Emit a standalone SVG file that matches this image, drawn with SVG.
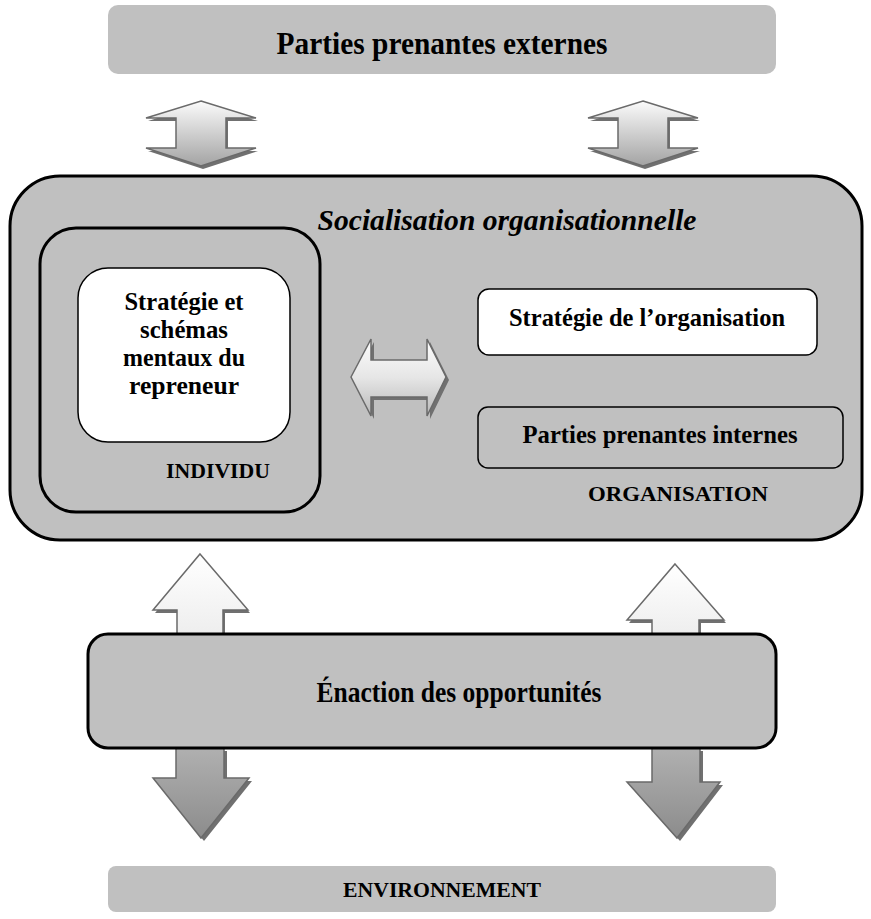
<svg xmlns="http://www.w3.org/2000/svg" width="871" height="919" viewBox="0 0 871 919">
<defs>
<linearGradient id="gDouble" x1="0" y1="0" x2="0" y2="1">
<stop offset="0" stop-color="#fbfbfb"/><stop offset="1" stop-color="#a3a3a3"/>
</linearGradient>
<linearGradient id="gUp" x1="0" y1="0" x2="0" y2="1">
<stop offset="0" stop-color="#ffffff"/><stop offset="1" stop-color="#eeeeee"/>
</linearGradient>
<linearGradient id="gDown" x1="0" y1="0" x2="0" y2="1">
<stop offset="0" stop-color="#b0b0b0"/><stop offset="1" stop-color="#8c8c8c"/>
</linearGradient>
<linearGradient id="gH" x1="0" y1="0" x2="0" y2="1">
<stop offset="0" stop-color="#fdfdfd"/><stop offset="0.5" stop-color="#e6e6e6"/><stop offset="1" stop-color="#b8b8b8"/>
</linearGradient>
</defs>
<style>
.t{font-family:"Liberation Serif","Times New Roman",serif;font-weight:bold;fill:#000;text-anchor:middle}
.gray{fill:#c0c0c0}
.thick{stroke:#000;stroke-width:3}
.thin{stroke:#000;stroke-width:1.5}
.sh{fill:#707070}
.ar{stroke:#6a6a6a;stroke-width:1.5}
</style>
<rect width="871" height="919" fill="#fff"/>
<g id="connectors">
<g id="dbl-left">
<polygon class="sh" transform="translate(2,3)" points="201,101 256,118 226,118 226,148 256,148 201,166 146,148 176,148 176,118 146,118"/>
<polygon class="ar" fill="url(#gDouble)" points="201,101 256,118 226,118 226,148 256,148 201,166 146,148 176,148 176,118 146,118"/>
</g>
<g id="dbl-right">
<polygon class="sh" transform="translate(2,3)" points="643,101 698,118 668,118 668,148 698,148 643,166 588,148 618,148 618,118 588,118"/>
<polygon class="ar" fill="url(#gDouble)" points="643,101 698,118 668,118 668,148 698,148 643,166 588,148 618,148 618,118 588,118"/>
</g>
</g>
<g id="node-externes">
<rect class="gray" x="108" y="5" width="668" height="69" rx="10"/>
<text class="t" x="442" y="54" font-size="31" textLength="331" lengthAdjust="spacingAndGlyphs">Parties prenantes externes</text>
</g>
<g id="node-socialisation">
<rect class="gray thick" x="10" y="176" width="852" height="364" rx="50"/>
<text class="t" x="507" y="230" font-size="30" font-style="italic" textLength="379" lengthAdjust="spacingAndGlyphs">Socialisation organisationnelle</text>
</g>
<g id="node-individu">
<rect class="gray thick" x="40" y="228" width="280" height="284" rx="36"/>
<text class="t" x="218" y="478" font-size="22" textLength="104" lengthAdjust="spacingAndGlyphs">INDIVIDU</text>
</g>
<g id="node-strategie-repreneur">
<rect fill="#fff" class="thin" x="78" y="268" width="212" height="174" rx="30"/>
<text class="t" x="184" y="310" font-size="25" textLength="119" lengthAdjust="spacingAndGlyphs">Stratégie et</text>
<text class="t" x="184" y="338" font-size="25" textLength="88" lengthAdjust="spacingAndGlyphs">schémas</text>
<text class="t" x="184" y="366" font-size="25" textLength="122" lengthAdjust="spacingAndGlyphs">mentaux du</text>
<text class="t" x="184" y="394" font-size="25" textLength="110" lengthAdjust="spacingAndGlyphs">repreneur</text>
</g>
<g id="node-strategie-organisation">
<rect fill="#fff" class="thin" x="478" y="289" width="339" height="66" rx="11"/>
<text class="t" x="647" y="326" font-size="25" textLength="276" lengthAdjust="spacingAndGlyphs">Stratégie de l’organisation</text>
</g>
<g id="node-parties-internes">
<rect class="gray thin" x="478" y="407" width="365" height="61" rx="10"/>
<text class="t" x="660" y="443" font-size="25" textLength="275" lengthAdjust="spacingAndGlyphs">Parties prenantes internes</text>
</g>
<g id="node-organisation-label">
<text class="t" x="678" y="501" font-size="22" textLength="180" lengthAdjust="spacingAndGlyphs">ORGANISATION</text>
</g>
<g id="connectors-2">
<g id="dbl-horizontal">
<polygon class="sh" transform="translate(3,3)" points="351,377 371,339 371,360 427,360 427,339 446,377 427,416 427,397 371,397 371,416"/>
<polygon class="ar" fill="url(#gH)" points="351,377 371,339 371,360 427,360 427,339 446,377 427,416 427,397 371,397 371,416"/>
</g>
<g id="up-left">
<polygon class="sh" transform="translate(2,3)" points="200,554 248,610 223,610 223,634 177,634 177,610 153,610"/>
<polygon class="ar" fill="url(#gUp)" points="200,554 248,610 223,610 223,634 177,634 177,610 153,610"/>
</g>
<g id="up-right">
<polygon class="sh" transform="translate(2,3)" points="675,564 724,620 699,620 699,634 652,634 652,620 627,620"/>
<polygon class="ar" fill="url(#gUp)" points="675,564 724,620 699,620 699,634 652,634 652,620 627,620"/>
</g>
<g id="down-left">
<polygon class="sh" transform="translate(3,3)" points="176,748 224,748 224,778 249,778 201,838 153,778 176,778"/>
<polygon class="ar" fill="url(#gDown)" points="176,748 224,748 224,778 249,778 201,838 153,778 176,778"/>
</g>
<g id="down-right">
<polygon class="sh" transform="translate(3,3)" points="652,748 700,748 700,782 720,782 677,838 627,782 652,782"/>
<polygon class="ar" fill="url(#gDown)" points="652,748 700,748 700,782 720,782 677,838 627,782 652,782"/>
</g>
</g>
<g id="node-enaction">
<rect class="gray thick" x="88" y="634" width="688" height="114" rx="20"/>
<text class="t" x="459" y="702" font-size="29" textLength="285" lengthAdjust="spacingAndGlyphs">Énaction des opportunités</text>
</g>
<g id="node-environnement">
<rect class="gray" x="108" y="866" width="668" height="46" rx="8"/>
<text class="t" x="442" y="897" font-size="21" textLength="198" lengthAdjust="spacingAndGlyphs">ENVIRONNEMENT</text>
</g>
</svg>
